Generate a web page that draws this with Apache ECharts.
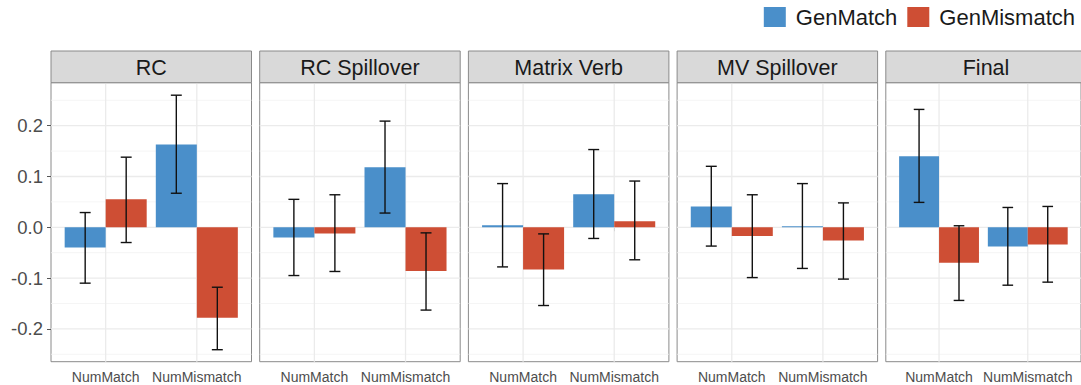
<!DOCTYPE html>
<html>
<head>
<meta charset="utf-8">
<title>Effect estimates by region</title>
<script src="https://cdn.jsdelivr.net/npm/echarts@6/dist/echarts.min.js"></script>
<style>
  html, body { margin: 0; padding: 0; background: #fff; }
  #chart { width: 1081px; height: 385px; }
</style>
</head>
<body>
<div id="chart"></div>
<script>
// Facet panels (regions) and the two x categories in each panel
const panels = ['RC', 'RC Spillover', 'Matrix Verb', 'MV Spillover', 'Final'];
const categories = ['NumMatch', 'NumMismatch'];
const groups = ['GenMatch', 'GenMismatch'];

// Per panel: [NumMatch, NumMismatch]
const genMatchMean = [[-0.040, 0.163], [-0.020, 0.118], [0.004, 0.065], [0.041, 0.002], [0.140, -0.038]];
const genMatchLow  = [[-0.110, 0.067], [-0.095, 0.028], [-0.078, -0.022], [-0.037, -0.081], [0.049, -0.114]];
const genMatchHigh = [[0.029, 0.260], [0.055, 0.209], [0.086, 0.153], [0.120, 0.086], [0.232, 0.039]];

const genMismatchMean = [[0.055, -0.178], [-0.012, -0.086], [-0.083, 0.012], [-0.017, -0.026], [-0.070, -0.034]];
const genMismatchLow  = [[-0.030, -0.241], [-0.087, -0.163], [-0.154, -0.064], [-0.099, -0.102], [-0.144, -0.108]];
const genMismatchHigh = [[0.138, -0.118], [0.064, -0.011], [-0.013, 0.091], [0.064, 0.048], [0.003, 0.041]];

// Axis ticks
const yTicks = [-0.2, -0.1, 0.0, 0.1, 0.2];
const yMinorTicks = [-0.25, -0.15, -0.05, 0.05, 0.15, 0.25];

// Layout / styling
const FONT = "'Liberation Sans', Arial, Helvetica, sans-serif";
const COLORS = { GenMatch: '#4A8FCA', GenMismatch: '#CE4E34' };
const Y_MIN = -0.2646, Y_MAX = 0.2846;
const X_MIN = 0.4, X_MAX = 2.6;          // discrete scale with 0.6 expansion each side
const BAR_W = 0.45;                        // dodge width 0.9 split between two groups
const CAP_W = 0.12;
const PANEL_LEFT0 = 51, PANEL_STEP = 208.7, PANEL_W = 200.5;
const PANEL_TOP = 82.7, PANEL_H = 279;
const STRIP_TOP = 51, STRIP_H = 31.7;
const BORDER = '#8a8a8a';

const grids = [], xAxes = [], yAxes = [], series = [], graphics = [];

panels.forEach(function (name, p) {
  const left = PANEL_LEFT0 + p * PANEL_STEP;
  grids.push({
    left: left, top: PANEL_TOP, width: PANEL_W, height: PANEL_H,
    show: true, borderColor: BORDER, borderWidth: 1, backgroundColor: '#fff', z: 0
  });
  xAxes.push({
    gridIndex: p, type: 'value', min: X_MIN, max: X_MAX,
    axisLine: { show: false },
    splitLine: { show: false },
    axisTick: { show: true, customValues: [1, 2], length: 4, lineStyle: { color: '#555', width: 1 } },
    axisLabel: {
      show: true, customValues: [1, 2], margin: 8,
      fontSize: 14, fontFamily: FONT, color: '#4d4d4d',
      formatter: function (v) { return categories[Math.round(v) - 1] || ''; }
    }
  });
  yAxes.push({
    gridIndex: p, type: 'value', min: Y_MIN, max: Y_MAX,
    axisLine: { show: false },
    splitLine: { show: false },
    axisTick: { show: p === 0, customValues: yTicks, length: 4, lineStyle: { color: '#555', width: 1 } },
    axisLabel: {
      show: p === 0, customValues: yTicks, margin: 8,
      fontSize: 18.5, fontFamily: FONT, color: '#4d4d4d',
      formatter: function (v) { return v.toFixed(1); }
    }
  });

  // Background grid lines: [x1, y1, x2, y2, kind]
  const gridData = [];
  yMinorTicks.forEach(function (v) { gridData.push([X_MIN, v, X_MAX, v, 0]); });
  yTicks.forEach(function (v) { gridData.push([X_MIN, v, X_MAX, v, 1]); });
  [1, 2].forEach(function (c) { gridData.push([c, Y_MIN, c, Y_MAX, 1]); });
  series.push({
    type: 'custom', xAxisIndex: p, yAxisIndex: p, silent: true, z: 1,
    encode: { x: [0, 2], y: [1, 3] },
    data: gridData,
    renderItem: function (params, api) {
      const a = api.coord([api.value(0), api.value(1)]);
      const b = api.coord([api.value(2), api.value(3)]);
      const major = api.value(4) === 1;
      return {
        type: 'line',
        shape: { x1: a[0], y1: a[1], x2: b[0], y2: b[1] },
        style: { stroke: major ? '#EBEBEB' : '#F2F2F2', lineWidth: major ? 1.3 : 0.8 }
      };
    }
  });

  // Bars with error bars, one series per group
  groups.forEach(function (g, gi) {
    const mean = gi === 0 ? genMatchMean[p] : genMismatchMean[p];
    const low  = gi === 0 ? genMatchLow[p]  : genMismatchLow[p];
    const high = gi === 0 ? genMatchHigh[p] : genMismatchHigh[p];
    const offset = gi === 0 ? -BAR_W / 2 : BAR_W / 2;
    series.push({
      name: g, type: 'custom', xAxisIndex: p, yAxisIndex: p, z: 2,
      itemStyle: { color: COLORS[g] },
      encode: { x: 0, y: [1, 2, 3] },
      data: categories.map(function (c, ci) { return [ci + 1, mean[ci], low[ci], high[ci]]; }),
      renderItem: function (params, api) {
        const cx = api.value(0) + offset;
        const p0 = api.coord([cx - BAR_W / 2, 0]);
        const p1 = api.coord([cx + BAR_W / 2, api.value(1)]);
        const top = api.coord([cx, api.value(3)]);
        const bot = api.coord([cx, api.value(2)]);
        const capL = api.coord([cx - CAP_W / 2, 0])[0];
        const capR = api.coord([cx + CAP_W / 2, 0])[0];
        const y0 = Math.min(p0[1], p1[1]);
        const h = Math.max(Math.abs(p1[1] - p0[1]), 0.8);
        const line = { stroke: '#111', lineWidth: 1.4 };
        return {
          type: 'group',
          children: [
            { type: 'rect', shape: { x: p0[0], y: y0, width: p1[0] - p0[0], height: h },
              style: { fill: COLORS[g] } },
            { type: 'line', shape: { x1: top[0], y1: top[1], x2: bot[0], y2: bot[1] }, style: line },
            { type: 'line', shape: { x1: capL, y1: top[1], x2: capR, y2: top[1] }, style: line },
            { type: 'line', shape: { x1: capL, y1: bot[1], x2: capR, y2: bot[1] }, style: line }
          ]
        };
      }
    });
  });

  // Facet strip
  graphics.push({
    type: 'rect', silent: true, z: 10,
    shape: { x: left, y: STRIP_TOP, width: PANEL_W, height: STRIP_H },
    style: { fill: '#D9D9D9', stroke: BORDER, lineWidth: 1 }
  });
  graphics.push({
    type: 'text', silent: true, z: 11,
    style: {
      text: name, x: left + PANEL_W / 2, y: STRIP_TOP + STRIP_H / 2 + 1,
      align: 'center', verticalAlign: 'middle',
      font: '21.5px ' + FONT, fill: '#1a1a1a'
    }
  });
});

const chart = echarts.init(document.getElementById('chart'), null, { renderer: 'svg' });
chart.setOption({
  animation: false,
  backgroundColor: '#fff',
  legend: {
    data: groups, right: 6, top: 6, padding: 0,
    icon: 'rect', itemWidth: 22, itemHeight: 20, itemGap: 10,
    selectedMode: false,
    textStyle: { fontSize: 22, fontFamily: FONT, color: '#1a1a1a', padding: [0, 0, 0, 5] }
  },
  grid: grids,
  xAxis: xAxes,
  yAxis: yAxes,
  series: series,
  graphic: graphics
});
</script>
</body>
</html>
